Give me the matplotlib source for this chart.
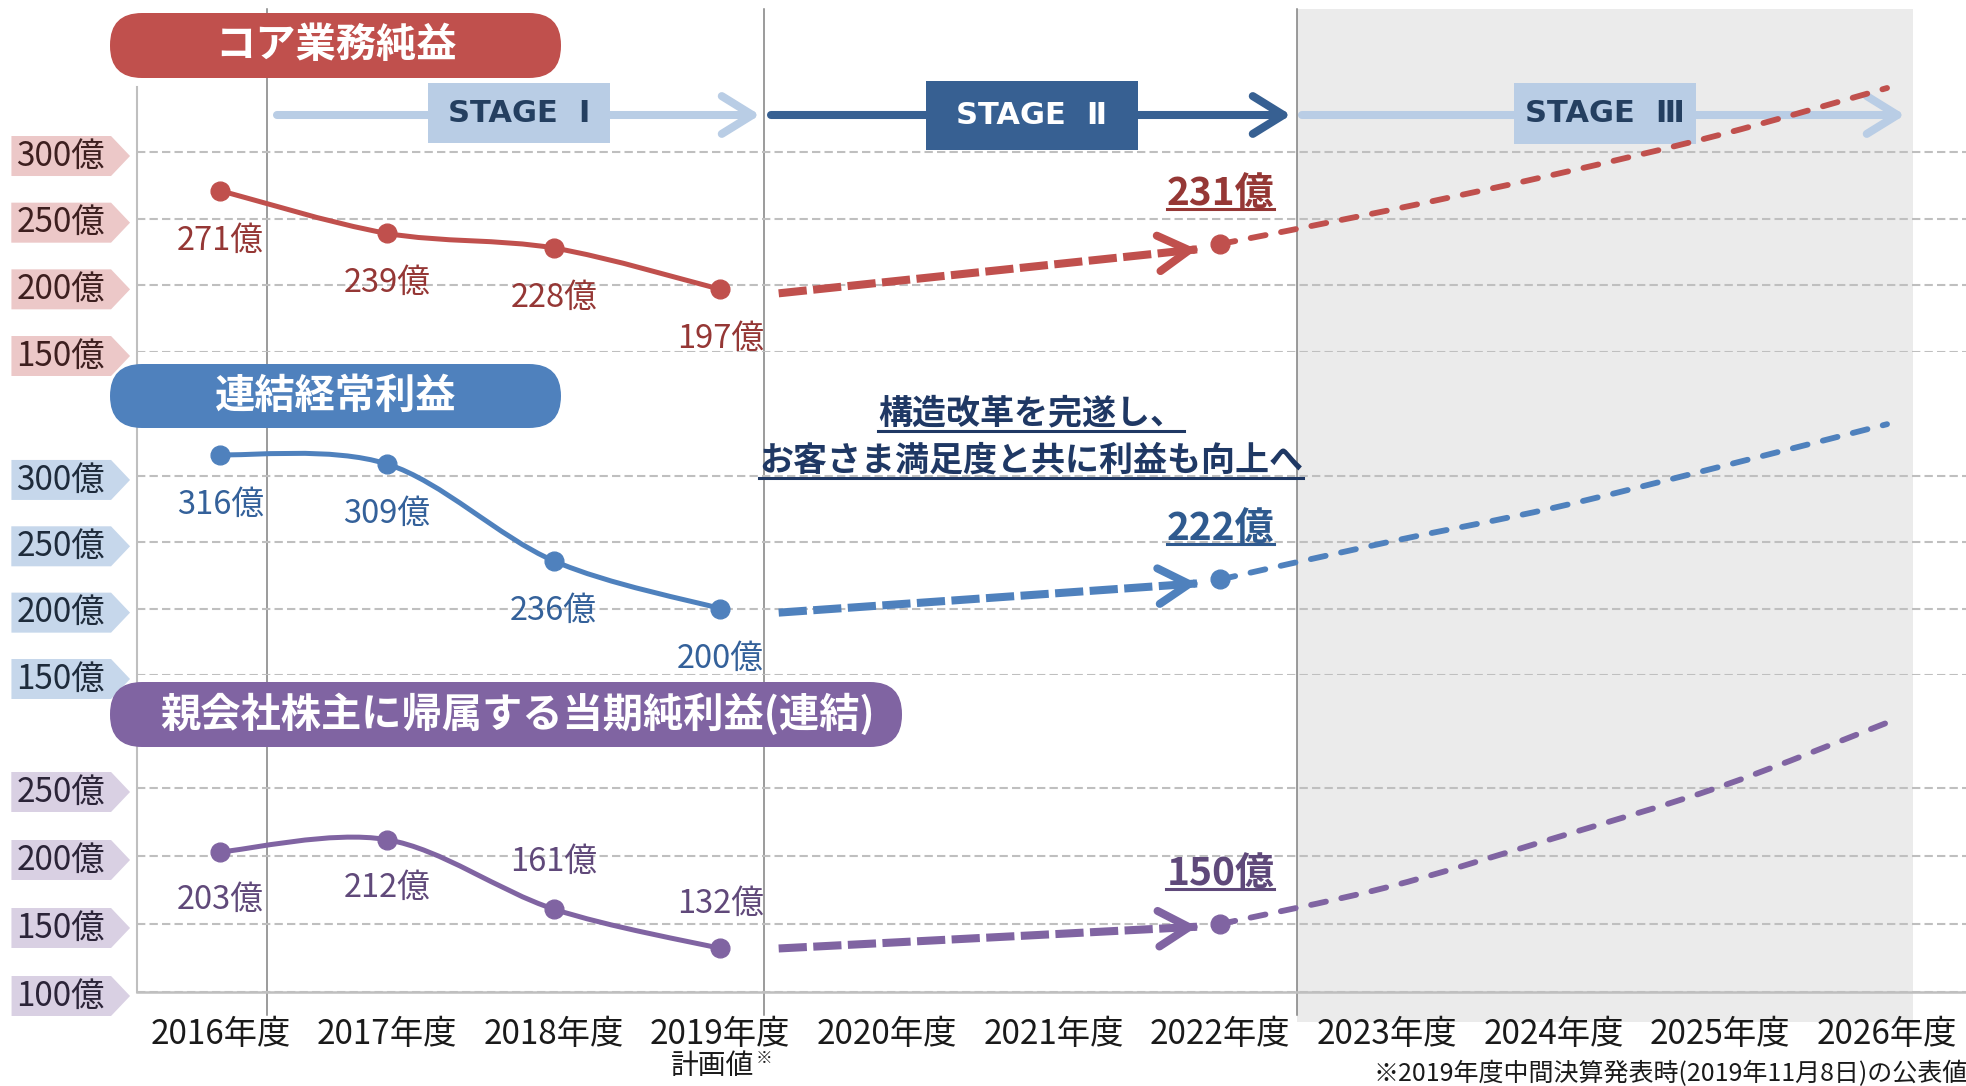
import numpy as np
import matplotlib
matplotlib.use('Agg')
import matplotlib.pyplot as plt
from matplotlib.path import Path
from matplotlib.patches import PathPatch, FancyBboxPatch, Rectangle
from matplotlib.lines import Line2D

plt.rcParams['font.family'] = ['Noto Sans CJK JP', 'DejaVu Sans']

# ---- data ----
years = list(range(2016, 2027))
year_labels = [f'{y}年度' for y in years]

actual_years = [2016, 2017, 2018, 2019]
core_profit = [271, 239, 228, 197]        # コア業務純益
ordinary_profit = [316, 309, 236, 200]    # 連結経常利益
net_profit = [203, 212, 161, 132]         # 親会社株主に帰属する当期純利益

proj_years = [2022, 2023, 2024, 2025, 2026]
core_proj = [231, 256, 283, 313, 348]
ordinary_proj = [222, 250, 276, 307, 339]
net_proj = [150, 177, 213, 251, 298]

bridge_x = [2019.35, 2021.86]
core_bridge = [194, 227]
ordinary_bridge = [197, 219]
net_bridge = [132, 148]

core_ticks = [150, 200, 250, 300]
ordinary_ticks = [150, 200, 250, 300]
net_ticks = [100, 150, 200, 250]

W, H = 1966, 1086
fig = plt.figure(figsize=(W / 100, H / 100), dpi=100)
fig.patch.set_facecolor('white')

# background layer in pixel units
ax_bg = fig.add_axes([0, 0, 1, 1], zorder=0)
ax_bg.set_xlim(0, W)
ax_bg.set_ylim(H, 0)
ax_bg.axis('off')

ax_bg.add_patch(Rectangle((1297, 9), 1913 - 1297, 1022 - 9, facecolor='#EBEBEB', edgecolor='none'))
for xv in [267, 764, 1297]:
    ax_bg.plot([xv, xv], [9, 1015], color='#808080', lw=1.1)
ax_bg.plot([137, 137], [87, 992], color='#BFBFBF', lw=1.5)


def stage(x0, x1, y, color, box, label, tcolor):
    ax_bg.annotate('', xy=(x1, y), xytext=(x0, y),
                   arrowprops=dict(arrowstyle='->,head_length=0.55,head_width=0.34',
                                   mutation_scale=40, color=color, lw=5.8,
                                   shrinkA=0, shrinkB=0, capstyle='round',
                                   joinstyle='round'))
    bx0, bx1, by0, by1 = box
    ax_bg.add_patch(Rectangle((bx0, by0), bx1 - bx0, by1 - by0, facecolor=color,
                              edgecolor='none', zorder=4))
    ax_bg.text((bx0 + bx1) / 2, (by0 + by1) / 2, label, ha='center', va='center',
               fontsize=22, fontweight='bold', color=tcolor, zorder=5,
               family=['DejaVu Sans', 'Noto Sans CJK JP'])


stage(277, 760, 115, '#B9CDE5', (428, 610, 83, 143), 'STAGE  Ⅰ', '#243F60')
stage(771, 1291, 115, '#376092', (926, 1138, 81, 150), 'STAGE  Ⅱ', 'white')
stage(1302, 1905, 115, '#B9CDE5', (1514, 1696, 83, 144), 'STAGE  Ⅲ', '#243F60')


def pentagon(x0, y0, width, height, mutation_size):
    cy = y0 + height / 2
    hh = 20
    left = x0 - 5
    right = x0 + width + 6
    tip = right + 19
    return Path([(left, cy - hh), (right, cy - hh), (tip, cy), (right, cy + hh),
                 (left, cy + hh), (left, cy - hh)], closed=True)


def smooth_path(xs, ys, t=1 / 6):
    pts = np.column_stack([xs, ys]).astype(float)
    p = np.vstack([pts[0], pts, pts[-1]])
    verts = [pts[0]]
    codes = [Path.MOVETO]
    for i in range(len(pts) - 1):
        p0, p1, p2, p3 = p[i], p[i + 1], p[i + 2], p[i + 3]
        verts += [p1 + (p2 - p0) * t, p2 - (p3 - p1) * t, p2]
        codes += [Path.CURVE4] * 3
    return Path(verts, codes)


xlim = (2015.5, 2015.5 + (W - 137) / 166.67)
underline = []

panels = [
    # top px, bottom px, ylim, values, proj, bridge, ticks, color, label color, tick color, box color, offsets
    (9, 352, (150, 150 + 343 / 1.3333), core_profit, core_proj, core_bridge, core_ticks,
     '#C0504D', '#953735', '#3D1F1F', '#ECC8C8', [-50, -50, -50, -50], '#953735'),
    (360, 675, (150, 150 + 315 / 1.327), ordinary_profit, ordinary_proj, ordinary_bridge, ordinary_ticks,
     '#4F81BD', '#34619A', '#1E2B3B', '#C6D7EB', [-50, -50, -50, -50], '#2F5A8F'),
    (680, 992, (100, 100 + 312 / 1.36), net_profit, net_proj, net_bridge, net_ticks,
     '#8064A2', '#60497A', '#2B2438', '#D9D0E3', [-48, -48, 47, 45], '#5F497A'),
]

axes = []
for (top, bottom, ylim, vals, proj, bridge, ticks, c, lc, tc, bc, offs, vc) in panels:
    ax = fig.add_axes([137 / W, 1 - bottom / H, (W - 137) / W, (bottom - top) / H], zorder=1)
    ax.patch.set_visible(False)
    ax.set_xlim(*xlim)
    ax.set_ylim(*ylim)
    for s in ax.spines.values():
        s.set_visible(False)
    ax.set_yticks(ticks)
    ax.set_yticklabels([f'{t}億' for t in ticks])
    ax.tick_params(axis='y', length=0, pad=23, labelsize=24, labelcolor=tc)
    for lbl in ax.get_yticklabels():
        lbl.set_bbox(dict(boxstyle=pentagon, facecolor=bc, edgecolor='none'))
    ax.yaxis.grid(True, color='#BFBFBF', linestyle=(0, (4, 2)), lw=1.5)
    ax.set_xticks([])

    # actual results
    ax.add_patch(PathPatch(smooth_path(actual_years, vals), fill=False, edgecolor=c,
                           lw=3.6, capstyle='round', zorder=3))
    ax.plot(actual_years, vals, 'o', ms=13.5, color=c, zorder=4)
    for x, v, o in zip(actual_years, vals, offs):
        ax.annotate(f'{v}億', (x, v), xytext=(0, o), textcoords='offset pixels',
                    ha='center', va='center', fontsize=23.5, color=lc)

    # bridge arrow to the plan year
    ax.plot(bridge_x, bridge, color=c, lw=5.8, linestyle=(0, (3.5, 0.8)),
            dash_capstyle='butt', zorder=3)
    x0, x1 = bridge_x
    v0, v1 = bridge
    ax.annotate('', xy=(x1, v1), xytext=(x1 - 0.02, v1 - (v1 - v0) * 0.02 / (x1 - x0)),
                arrowprops=dict(arrowstyle='->,head_length=0.55,head_width=0.32',
                                mutation_scale=40, color=c, lw=5.8, shrinkA=0, shrinkB=0,
                                capstyle='round', joinstyle='round'))

    # projection
    ax.add_patch(PathPatch(smooth_path(proj_years, proj), fill=False, edgecolor=c,
                           lw=4.2, linestyle=(0, (2.6, 2.7)), capstyle='round', zorder=3))
    ax.plot([proj_years[0]], [proj[0]], 'o', ms=13.5, color=c, zorder=4)
    t = ax.annotate(f'{proj[0]}億', (proj_years[0], proj[0]), xytext=(0, 51),
                    textcoords='offset pixels', ha='center', va='center',
                    fontsize=28, fontweight='bold', color=vc)
    underline.append((t, vc, 16))
    axes.append(ax)

ax3 = axes[2]
ax3.spines['bottom'].set_visible(True)
ax3.spines['bottom'].set_color('#BFBFBF')
ax3.spines['bottom'].set_linewidth(1.8)
ax3.set_xticks(years)
ax3.set_xticklabels(year_labels)
ax3.tick_params(axis='x', length=0, pad=18, labelsize=24, labelcolor='#1A1A1A')
ax3.annotate('計画値', (2019, 0), xycoords=('data', 'axes fraction'), xytext=(-8, -74),
             textcoords='offset pixels', ha='center', va='center', fontsize=20, color='#1A1A1A')
ax3.annotate('※', (2019, 0), xycoords=('data', 'axes fraction'), xytext=(44, -66),
             textcoords='offset pixels', ha='center', va='center', fontsize=12, color='#1A1A1A')

# top layer: titles and notes
ax_top = fig.add_axes([0, 0, 1, 1], zorder=2)
ax_top.set_xlim(0, W)
ax_top.set_ylim(H, 0)
ax_top.axis('off')

pills = [
    (110, 561, 13, 78, '#C0504D', 'コア業務純益'),
    (110, 561, 364, 428, '#4F81BD', '連結経常利益'),
    (110, 902, 682, 747, '#8064A2', '親会社株主に帰属する当期純利益(連結)'),
]
for x0, x1, y0, y1, c, label in pills:
    ax_top.add_patch(FancyBboxPatch((x0, y0), x1 - x0, y1 - y0,
                                    boxstyle='round,pad=0,rounding_size=32',
                                    facecolor=c, edgecolor='none'))
    ax_top.text((x0 + x1) / 2 + (12 if x1 > 800 else 0), (y0 + y1) / 2, label,
                ha='center', va='center', fontsize=29, fontweight='bold', color='white')

for txt, y in [('構造改革を完遂し、', 413), ('お客さま満足度と共に利益も向上へ', 460)]:
    t = ax_top.text(1031, y, txt, ha='center', va='center', fontsize=24.5,
                    fontweight='bold', color='#1F3864')
    underline.append((t, '#1F3864', 18))

ax_top.text(1968, 1074, '※2019年度中間決算発表時(2019年11月8日)の公表値', ha='right',
            va='center', fontsize=18, color='#1A1A1A')

fig.canvas.draw()
for t, c, off in underline:
    bb = t.get_window_extent()
    yc = (bb.y0 + bb.y1) / 2 - off
    fig.add_artist(Line2D([bb.x0 / W, bb.x1 / W], [yc / H, yc / H], color=c, lw=2.2,
                          transform=fig.transFigure, zorder=10))

fig.savefig('out.png', dpi=100)
